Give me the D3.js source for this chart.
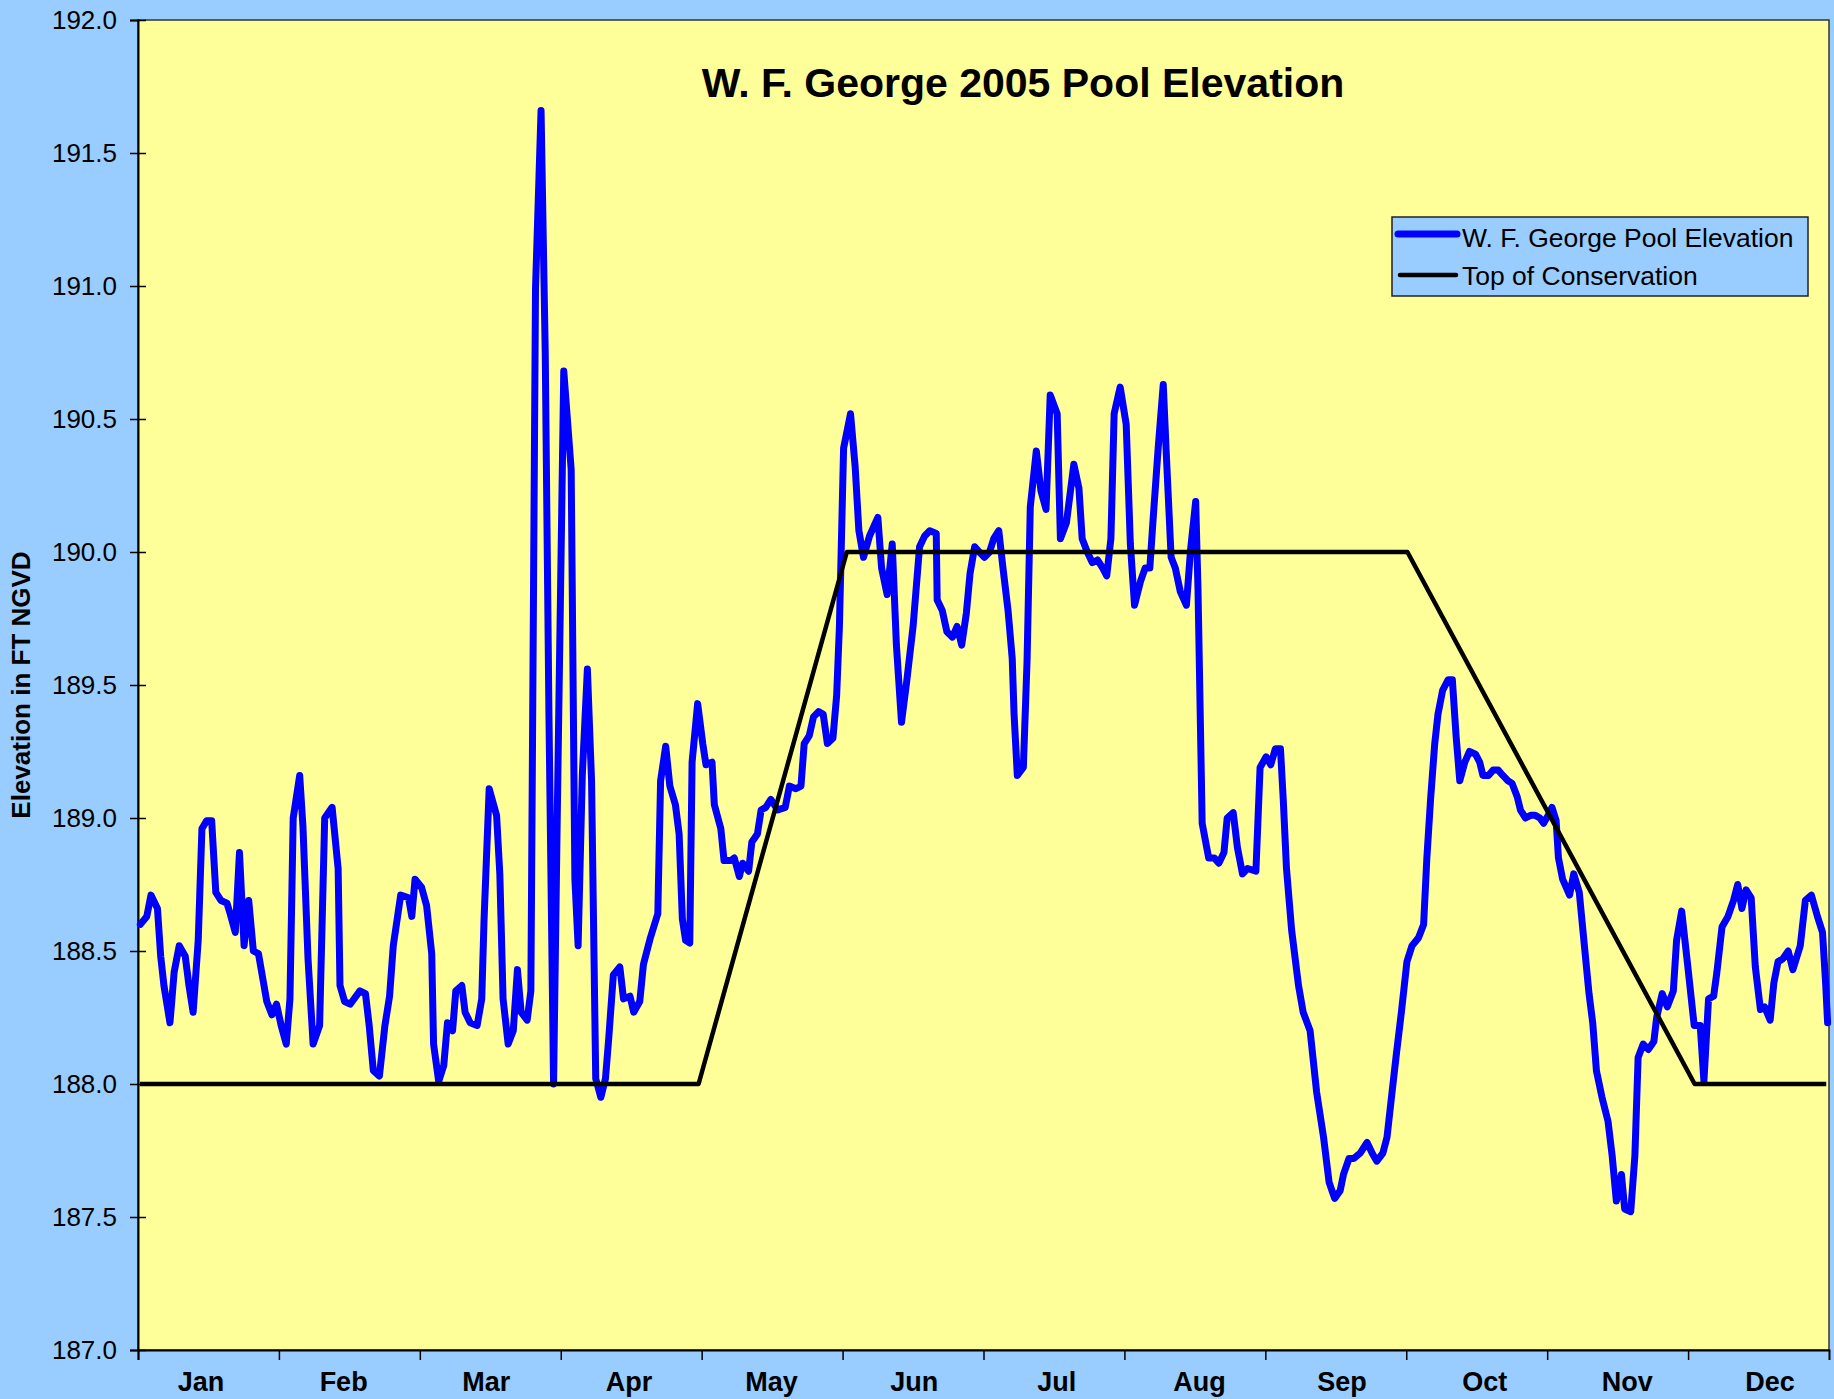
<!DOCTYPE html>
<html>
<head>
<meta charset="utf-8">
<script src="https://cdnjs.cloudflare.com/ajax/libs/d3/7.8.5/d3.min.js"></script>
<style>
  body { margin: 0; background: #99ccff; }
  svg { display: block; font-family: "Liberation Sans", Arial, sans-serif; }
</style>
</head>
<body>
<svg id="chart" width="1834" height="1399"></svg>
<script>
// day of year and pool elevation, ft NGVD
const poolDays = [
  0.5, 1.9, 2.8, 4.2, 4.9, 5.6, 6.9, 7.8, 8.9, 10.2, 11.0, 11.9, 13.0, 13.8, 14.8, 15.9,
  16.8, 17.9, 19.2, 19.9, 21.0, 21.9, 22.9, 23.9, 24.9, 26.0, 27.0, 27.8, 28.9, 29.9, 30.9,
  32.0, 32.8, 33.5, 34.9, 35.6, 36.7, 37.8, 39.2, 40.3, 41.9, 43.2, 43.6, 44.6, 45.8, 47.9,
  49.1, 49.9, 50.8, 52.1, 53.3, 54.3, 55.1, 56.7, 58.4, 59.1, 59.8, 61.2, 62.3, 63.4, 63.8,
  64.9, 66.0, 66.8, 67.9, 68.6, 69.9, 70.6, 71.7, 73.2, 74.2, 74.7, 75.8, 77.4, 78.1, 78.8,
  79.9, 81.0, 81.9, 82.7, 84.0, 84.8, 85.8, 87.0, 87.9, 88.7, 89.7, 90.5, 91.9, 93.5, 94.3,
  95.0, 95.9, 97.0, 97.9, 98.8, 99.9, 100.9, 101.6, 102.6, 104.0, 104.8, 106.2, 107.0, 108.3,
  109.1, 110.6, 112.2, 112.8, 113.9, 114.8, 116.0, 116.8, 117.5, 118.2, 119.1, 119.6, 120.8,
  121.9, 122.6, 123.9, 124.4, 125.8, 126.5, 128.0, 128.7, 129.8, 130.5, 131.8, 132.5, 133.7,
  134.5, 135.5, 136.6, 138.1, 139.7, 140.6, 142.0, 143.1, 143.8, 144.9, 145.8, 146.9, 147.9,
  148.8, 150.0, 150.8, 151.4, 152.3, 153.8, 154.8, 155.6, 156.6, 157.9, 159.7, 160.5, 161.7,
  162.8, 163.7, 164.8, 165.9, 167.3, 168.7, 169.8, 170.9, 172.3, 172.5, 173.6, 174.6, 175.8,
  176.8, 177.8, 178.8, 179.6, 180.6, 181.6, 182.7, 183.8, 184.7, 185.8, 186.7, 187.8, 188.7,
  189.1, 189.8, 191.1, 191.9, 192.6, 193.9, 194.9, 196.0, 196.9, 198.4, 199.1, 200.4, 202.0,
  203.1, 203.8, 204.9, 206.0, 207.1, 208.2, 209.1, 210.0, 210.7, 212.0, 213.3, 214.2, 215.1,
  216.4, 217.4, 218.4, 219.1, 220.2, 221.3, 221.9, 223.0, 223.9, 225.0, 226.3, 227.2, 228.3,
  228.8, 229.7, 231.1, 232.3, 233.3, 234.4, 235.1, 236.4, 237.3, 238.4, 239.5, 241.3, 242.2,
  243.5, 244.5, 245.5, 246.6, 247.2, 247.9, 249.0, 250.5, 251.5, 253.0, 254.4, 255.9, 257.1,
  258.3, 259.5, 260.2, 261.4, 262.4, 263.8, 265.3, 266.4, 267.4, 268.7, 269.6, 270.5, 271.6,
  272.7, 273.9, 275.0, 276.4, 277.5, 278.2, 279.0, 279.9, 280.6, 281.6, 282.8, 283.7, 284.5,
  285.3, 286.4, 287.4, 288.7, 289.6, 290.3, 291.5, 292.5, 293.6, 294.6, 295.7, 296.6, 297.7,
  298.4, 299.5, 300.6, 301.6, 302.6, 303.4, 304.4, 305.2, 306.1, 306.6, 307.5, 309.0, 309.9,
  311.1, 312.2, 313.2, 314.0, 314.8, 316.0, 317.3, 318.2, 319.1, 320.2, 320.9, 322.2, 323.1,
  323.8, 324.9, 326.0, 327.2, 327.8, 329.0, 330.1, 331.4, 332.1, 333.2, 334.6, 335.9, 337.2,
  338.0, 339.0, 340.1, 340.8, 341.9, 343.2, 344.4, 345.3, 346.2, 347.1, 348.2, 349.1, 350.2,
  351.1, 352.3, 353.1, 354.0, 355.0, 356.2, 357.2, 358.8, 359.9, 361.2, 362.5, 363.6, 364.3,
  364.7
];
const poolElev = [
  188.60, 188.63, 188.71, 188.66, 188.48, 188.37, 188.23, 188.42, 188.52, 188.48, 188.37, 188.27, 188.54, 188.96, 188.99, 188.99,
  188.72, 188.69, 188.68, 188.64, 188.57, 188.87, 188.52, 188.69, 188.50, 188.49, 188.39, 188.31, 188.26, 188.30, 188.22,
  188.15, 188.32, 189.00, 189.16, 188.97, 188.47, 188.15, 188.22, 189.00, 189.04, 188.81, 188.37, 188.31, 188.30, 188.35,
  188.34, 188.22, 188.05, 188.03, 188.22, 188.33, 188.52, 188.71, 188.70, 188.63, 188.77, 188.74, 188.67, 188.49, 188.15,
  188.01, 188.07, 188.23, 188.20, 188.35, 188.37, 188.27, 188.23, 188.22, 188.32, 188.62, 189.11, 189.01, 188.79, 188.32,
  188.15, 188.20, 188.43, 188.27, 188.24, 188.35, 190.99, 191.66, 190.75, 189.39, 188.00, 189.01, 190.68, 190.31, 188.77,
  188.52, 189.16, 189.56, 189.14, 188.02, 187.95, 188.02, 188.17, 188.41, 188.44, 188.32, 188.33, 188.27, 188.31,
  188.45, 188.55, 188.64, 189.14, 189.27, 189.12, 189.05, 188.94, 188.62, 188.54, 188.53, 189.21, 189.43,
  189.28, 189.20, 189.21, 189.05, 188.96, 188.84, 188.84, 188.85, 188.78, 188.83, 188.80, 188.91, 188.94,
  189.03, 189.04, 189.07, 189.03, 189.04, 189.12, 189.11, 189.12, 189.28, 189.31, 189.38, 189.40, 189.39,
  189.28, 189.30, 189.46, 189.72, 190.39, 190.52, 190.32, 190.08, 189.98, 190.06, 190.13, 189.94, 189.84,
  190.03, 189.65, 189.36, 189.51, 189.72, 190.02, 190.06, 190.08, 190.07, 189.82, 189.78, 189.70, 189.68,
  189.72, 189.65, 189.77, 189.92, 190.02, 190.00, 189.98, 190.00, 190.05, 190.08, 189.94, 189.78, 189.60,
  189.39, 189.16, 189.19, 189.59, 190.17, 190.38, 190.23, 190.16, 190.59, 190.52, 190.05, 190.11, 190.33,
  190.24, 190.05, 190.00, 189.96, 189.97, 189.94, 189.91, 190.05, 190.52, 190.62, 190.48, 190.03, 189.80,
  189.89, 189.94, 189.94, 190.12, 190.39, 190.63, 190.39, 189.98, 189.94, 189.85, 189.80, 190.01, 190.19,
  189.86, 188.98, 188.85, 188.85, 188.83, 188.87, 189.00, 189.02, 188.89, 188.79, 188.81, 188.80, 189.19,
  189.23, 189.20, 189.26, 189.26, 189.07, 188.81, 188.58, 188.37, 188.27, 188.20, 187.97, 187.80, 187.63,
  187.57, 187.60, 187.66, 187.72, 187.72, 187.74, 187.78, 187.74, 187.71, 187.74, 187.80, 187.94, 188.11,
  188.27, 188.46, 188.52, 188.55, 188.60, 188.85, 189.07, 189.28, 189.39, 189.48, 189.52, 189.52, 189.31,
  189.14, 189.21, 189.25, 189.24, 189.21, 189.16, 189.16, 189.18, 189.18, 189.16, 189.14, 189.13, 189.08,
  189.03, 189.00, 189.01, 189.01, 189.00, 188.98, 189.01, 189.04, 188.99, 188.85, 188.77, 188.71, 188.79,
  188.72, 188.52, 188.34, 188.23, 188.05, 187.95, 187.86, 187.73, 187.56, 187.66, 187.53, 187.52, 187.73,
  188.10, 188.15, 188.13, 188.16, 188.25, 188.34, 188.29, 188.35, 188.54, 188.65, 188.43, 188.22, 188.22,
  188.01, 188.32, 188.33, 188.42, 188.59, 188.63, 188.69, 188.75, 188.66, 188.73, 188.70, 188.44, 188.28,
  188.29, 188.24, 188.38, 188.46, 188.47, 188.50, 188.43, 188.52, 188.69, 188.71, 188.63, 188.57, 188.37,
  188.23
];

// top of conservation guide curve
const consDays = [0.4, 121, 153, 274, 336, 364.4];
const consElev = [188.0, 188.0, 190.0, 190.0, 188.0, 188.0];

const months = ["Jan", "Feb", "Mar", "Apr", "May", "Jun", "Jul", "Aug", "Sep", "Oct", "Nov", "Dec"];
const yTicks = [187.0, 187.5, 188.0, 188.5, 189.0, 189.5, 190.0, 190.5, 191.0, 191.5, 192.0];

const plotLeft = 138, plotTop = 20, plotRight = 1829, plotBottom = 1350;

const svg = d3.select("#chart");

const x = d3.scaleLinear().domain([0, 365]).range([plotLeft, plotRight]);
const y = d3.scaleLinear().domain([187, 192]).range([plotBottom, plotTop]);
// month names sit a little wider apart than the month ticks
const xLabel = d3.scalePoint().domain(months).range([201, 1770]);

// plot area
svg.append("rect")
  .attr("x", plotLeft).attr("y", plotTop)
  .attr("width", plotRight - plotLeft).attr("height", plotBottom - plotTop)
  .attr("fill", "#ffff99")
  .attr("stroke", "#333").attr("stroke-width", 1.5);

// y axis, ticks cross the axis line
const yAxis = svg.append("g")
  .attr("transform", "translate(" + plotLeft + ",0)")
  .call(d3.axisLeft(y).tickValues(yTicks).tickFormat(d3.format(".1f")).tickSize(8).tickPadding(13));
yAxis.attr("font-family", null).attr("font-size", null);
yAxis.select(".domain").attr("stroke", "#000").attr("stroke-width", 2);
yAxis.selectAll(".tick line").attr("x1", 8).attr("stroke", "#000").attr("stroke-width", 1.5);
yAxis.selectAll(".tick text").attr("font-size", 26).attr("fill", "#000");

// x axis: month boundaries
const monthStarts = months.map((m, i) => i * 365 / 12);
const xAxis = svg.append("g")
  .attr("transform", "translate(0," + plotBottom + ")")
  .call(d3.axisBottom(x).tickValues(monthStarts).tickFormat("").tickSize(10));
xAxis.select(".domain").attr("stroke", "#000").attr("stroke-width", 2);
xAxis.selectAll(".tick line").attr("stroke", "#000").attr("stroke-width", 1.5);

svg.append("g").selectAll("text")
  .data(months)
  .enter()
  .append("text")
    .attr("x", d => xLabel(d))
    .attr("y", 1391)
    .attr("text-anchor", "middle")
    .attr("font-size", 27)
    .attr("font-weight", "bold")
    .text(d => d);

// axis title
svg.append("text")
  .attr("transform", "translate(21," + ((plotTop + plotBottom) / 2) + ") rotate(-90)")
  .attr("text-anchor", "middle")
  .attr("dominant-baseline", "central")
  .attr("font-size", 26)
  .attr("font-weight", "bold")
  .text("Elevation in FT NGVD");

// chart title
svg.append("text")
  .attr("x", 1023).attr("y", 97)
  .attr("text-anchor", "middle")
  .attr("font-size", 41)
  .attr("font-weight", "bold")
  .text("W. F. George 2005 Pool Elevation");

const line = d3.line().x(d => x(d[0])).y(d => y(d[1]));

svg.append("path")
  .datum(d3.zip(poolDays, poolElev))
  .attr("d", line)
  .attr("fill", "none")
  .attr("stroke", "#0000ff")
  .attr("stroke-width", 7)
  .attr("stroke-linejoin", "round")
  .attr("stroke-linecap", "round");

svg.append("path")
  .datum(d3.zip(consDays, consElev))
  .attr("d", line)
  .attr("fill", "none")
  .attr("stroke", "#000")
  .attr("stroke-width", 4.5)
  .attr("stroke-linejoin", "round");

// legend
const legend = svg.append("g").attr("transform", "translate(1392,217)");
legend.append("rect")
  .attr("width", 416).attr("height", 79)
  .attr("fill", "#99ccff")
  .attr("stroke", "#222").attr("stroke-width", 1.5);
legend.append("line")
  .attr("x1", 6).attr("x2", 65).attr("y1", 17).attr("y2", 17)
  .attr("stroke", "#0000ff").attr("stroke-width", 7).attr("stroke-linecap", "round");
legend.append("line")
  .attr("x1", 8).attr("x2", 64).attr("y1", 58).attr("y2", 58)
  .attr("stroke", "#000").attr("stroke-width", 4.5).attr("stroke-linecap", "round");
legend.append("text")
  .attr("x", 70).attr("y", 30)
  .attr("font-size", 26.5)
  .text("W. F. George Pool Elevation");
legend.append("text")
  .attr("x", 70).attr("y", 68)
  .attr("font-size", 26.5)
  .text("Top of Conservation");
</script>
</body>
</html>
